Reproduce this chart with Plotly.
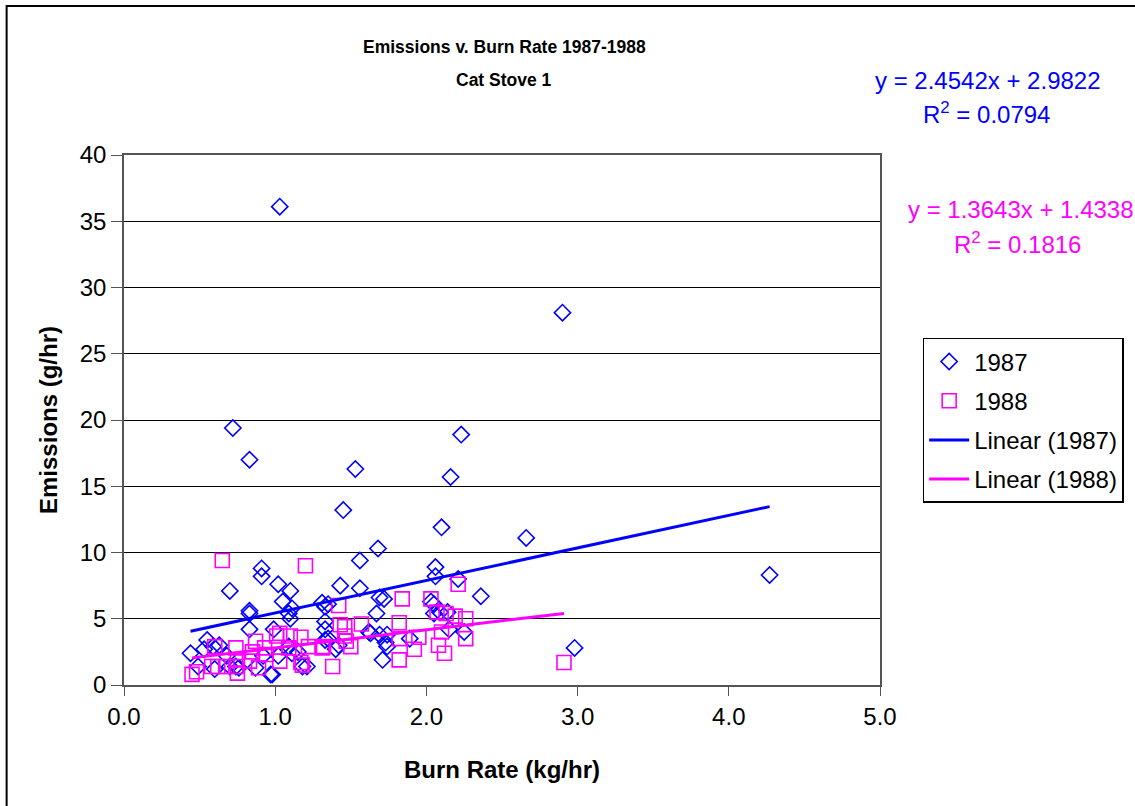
import plotly.graph_objects as go

# ---- data ----
burn_1987 = [1.03, 2.90, 0.72, 0.83, 2.23, 2.16, 1.53, 1.45, 2.10, 2.66, 1.68, 1.56, 0.91, 0.91,
             0.70, 1.02, 1.10, 1.43, 1.56, 2.06, 2.06, 2.21, 2.36, 1.69, 1.72, 1.05, 1.11, 1.35,
             1.33, 0.83, 0.83, 1.10, 0.83, 1.33, 1.67, 2.03, 2.05, 2.05, 2.09, 2.14, 2.15, 2.25,
             1.63, 1.74, 1.89, 1.33, 1.33, 1.42, 1.40, 1.74, 1.71, 0.99, 0.44, 0.55, 0.59, 0.53,
             0.63, 0.74, 0.60, 0.49, 0.70, 0.76, 0.87, 0.97, 1.18, 1.11, 0.92, 1.09, 1.02, 0.68,
             4.27, 2.98, 1.09, 1.31, 1.62, 1.35, 0.98, 1.21, 1.15, 1.69, 1.73]
emis_1987 = [36.1, 28.1, 19.4, 17.0, 18.9, 15.7, 16.3, 13.2, 11.9, 11.1, 10.3, 9.4, 8.8, 8.2,
             7.1, 7.6, 7.1, 7.5, 7.3, 8.9, 8.2, 8.0, 6.7, 6.6, 6.5, 6.3, 5.8, 6.1,
             5.9, 5.6, 5.4, 5.0, 4.2, 4.8, 5.4, 6.3, 6.1, 5.4, 5.5, 5.5, 4.2, 4.0,
             3.9, 3.8, 3.5, 4.2, 3.4, 3.0, 2.7, 2.9, 1.9, 4.2, 2.4, 3.4, 2.9, 2.7,
             3.0, 1.4, 1.2, 1.4, 1.4, 1.3, 1.3, 0.8, 1.4, 2.4, 2.2, 2.9, 2.2, 2.2,
             8.3, 2.8, 5.4, 6.2, 4.0, 3.5, 0.8, 1.4, 2.5, 3.8, 3.2]

burn_1988 = [0.45, 0.48, 0.60, 0.74, 0.85, 0.93, 0.58, 0.62, 0.68, 0.74, 0.75, 0.83, 0.89, 1.01,
             0.65, 1.20, 1.42, 0.87, 1.03, 1.17, 1.31, 1.38, 1.46, 1.57, 1.47, 1.17, 1.03, 1.10,
             0.75, 0.94, 1.22, 1.84, 2.03, 2.21, 1.82, 1.32, 1.50, 1.82, 1.95, 1.92, 1.82, 2.07,
             2.13, 2.19, 2.26, 2.08, 2.12, 2.26, 2.10, 2.91, 1.43, 1.46, 1.09, 1.18]
emis_1988 = [0.8, 1.0, 2.9, 2.8, 2.5, 2.8, 1.4, 1.4, 1.4, 1.4, 0.9, 1.8, 1.3, 3.7,
             9.4, 9.0, 6.0, 3.3, 3.9, 3.6, 2.8, 1.4, 4.4, 4.6, 3.3, 1.7, 1.8, 3.7,
             1.9, 2.3, 2.9, 6.5, 6.5, 7.6, 4.7, 2.9, 2.9, 3.5, 3.6, 2.7, 1.9, 5.5,
             5.4, 5.2, 5.0, 3.0, 2.4, 3.5, 4.0, 1.7, 4.55, 3.7, 2.8, 1.5]

# trendline coefficients as printed on the chart
slope_1987, icpt_1987, r2_1987 = 2.4542, 2.9822, 0.0794
slope_1988, icpt_1988, r2_1988 = 1.3643, 1.4338, 0.1816

x_ticks = [0.0, 1.0, 2.0, 3.0, 4.0, 5.0]
y_ticks = [0, 5, 10, 15, 20, 25, 30, 35, 40]

BLUE = "#0000FF"
MAGENTA = "#FF00FF"
FONT = "Liberation Sans, Arial, sans-serif"
BIG = 24

# plot-area geometry in pixels (used only to place paper-anchored text)
L, R, T, B = 124.5, 881.3, 155.0, 685.3
W, H = R - L, B - T

def px(xp):
    return (xp - L) / W

def py(yp):
    return (B - yp) / H

def trend(xs, m, b):
    lo, hi = min(xs), max(xs)
    return [lo, hi], [m * lo + b, m * hi + b]

t87x, t87y = trend(burn_1987, slope_1987, icpt_1987)
t88x, t88y = trend(burn_1988, slope_1988, icpt_1988)

fig = go.Figure()
fig.add_trace(go.Scatter(x=burn_1987, y=emis_1987, mode="markers", name="1987",
                         legendgroup="a",
                         marker=dict(symbol="diamond-open", size=12.5, color=BLUE,
                                     line=dict(width=1.6, color=BLUE))))
fig.add_trace(go.Scatter(x=burn_1988, y=emis_1988, mode="markers", name="1988",
                         legendgroup="b",
                         marker=dict(symbol="square-open", size=14, color=MAGENTA,
                                     line=dict(width=1.6, color=MAGENTA))))
fig.add_trace(go.Scatter(x=t87x, y=t87y, mode="lines", name="Linear (1987)",
                         legendgroup="c", line=dict(color=BLUE, width=3)))
fig.add_trace(go.Scatter(x=t88x, y=t88y, mode="lines", name="Linear (1988)",
                         legendgroup="d", line=dict(color=MAGENTA, width=3)))


def label(text, xp, yp, size, color="black"):
    return dict(text=text, xref="paper", yref="paper", x=px(xp), y=py(yp),
                xanchor="center", yanchor="middle", showarrow=False,
                font=dict(size=size, color=color))


fig.update_layout(
    width=1135, height=806,
    margin=dict(l=L, r=1135 - R, t=T, b=806 - B),
    paper_bgcolor="white", plot_bgcolor="white",
    font=dict(family=FONT, size=BIG, color="black"),
    showlegend=True,
    legend=dict(x=px(923), y=py(338), xanchor="left", yanchor="top",
                bordercolor="black", borderwidth=1.5, bgcolor="white",
                font=dict(size=BIG), tracegroupgap=5, itemwidth=40),
    annotations=[
        label("<b>Emissions v. Burn Rate 1987-1988</b>", 505, 47, 17.5),
        label("<b>Cat Stove 1</b>", 505, 80, 17.5),
        label(f"y = {slope_1987}x + {icpt_1987}", 989, 80, BIG, BLUE),
        label(f"R<sup>2</sup> = {r2_1987}", 988, 113, BIG, BLUE),
        label(f"y = {slope_1988}x + {icpt_1988}", 1022, 210, BIG, MAGENTA),
        label(f"R<sup>2</sup> = {r2_1988}", 1019, 243, BIG, MAGENTA),
    ],
    shapes=[
        dict(type="rect", xref="paper", yref="paper",
             x0=px(7), x1=px(1142), y0=py(815), y1=py(6),
             line=dict(color="black", width=2), layer="below"),
    ],
)

fig.update_xaxes(
    range=[0, 5], tickvals=x_ticks, ticktext=[f"{v:.1f}" for v in x_ticks],
    showgrid=False, zeroline=False, showline=True, linecolor="#555555", linewidth=1.5,
    mirror=True, ticks="outside", ticklen=9, tickcolor="#555555",
    tickfont=dict(size=BIG),
    title=dict(text="<b>Burn Rate (kg/hr)</b>", font=dict(size=BIG), standoff=33),
)
fig.update_yaxes(
    range=[0, 40], tickvals=y_ticks,
    showgrid=True, gridcolor="black", gridwidth=1, zeroline=False,
    showline=True, linecolor="#555555", linewidth=1.5, mirror=True,
    ticks="outside", ticklen=11, tickcolor="#555555",
    tickfont=dict(size=BIG),
    title=dict(text="<b>Emissions (g/hr)</b>", font=dict(size=BIG), standoff=15),
)

fig.write_html("out.html")
